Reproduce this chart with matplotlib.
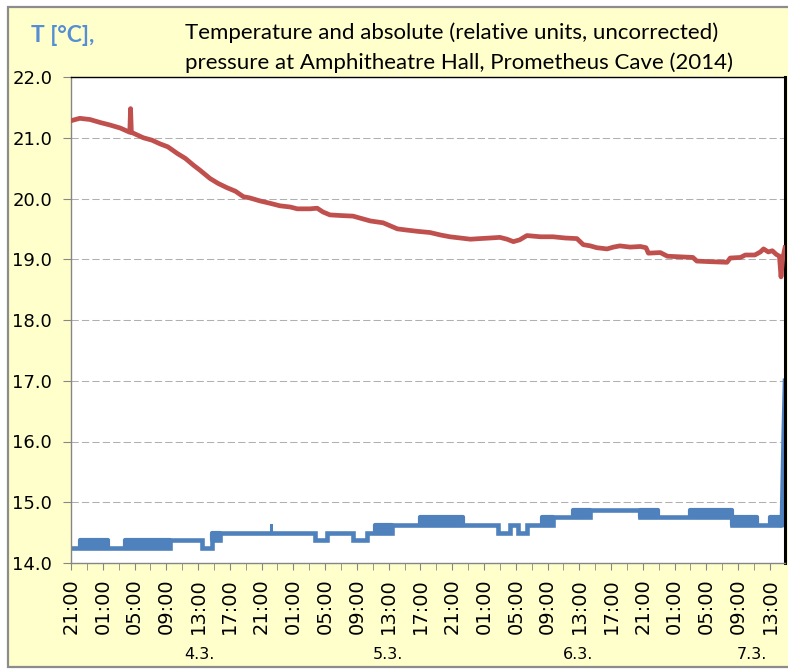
import matplotlib
matplotlib.use("Agg")
import matplotlib.pyplot as plt
from matplotlib.patches import Rectangle
import numpy as np

# ------------------ DATA (hours since 3.3.2014 21:00) ------------------
red_t = [0.0, 1.1, 2.4, 3.7, 4.9, 6.2, 7.4, 7.5, 7.6, 9.1, 10.2, 11.2, 12.2, 13.4,
         14.4, 15.4, 16.2, 17.5, 18.5, 19.6, 20.7, 21.7, 22.5, 23.8, 25.1, 26.3,
         27.6, 28.5, 30.1, 31.0, 31.7, 32.6, 33.9, 35.5, 36.6, 37.7, 39.3, 40.2,
         41.1, 42.3, 43.6, 45.2, 46.5, 47.7, 49.0, 50.3, 51.5, 52.8, 54.0, 54.9,
         55.7, 56.5, 57.4, 59.1, 60.7, 62.2, 63.7, 64.5, 65.4, 66.2, 67.5, 68.3,
         69.1, 70.4, 71.7, 72.4, 72.7, 74.2, 75.1, 76.7, 78.3, 78.8, 80.5, 82.6,
         83.0, 84.3, 84.9, 86.1, 86.8, 87.2, 87.8, 88.3, 88.8, 89.2, 89.4, 89.6, 89.9]
red_v = [21.28, 21.32, 21.30, 21.25, 21.21, 21.16, 21.09, 21.48, 21.09, 21.00, 20.96,
         20.90, 20.85, 20.74, 20.66, 20.55, 20.47, 20.33, 20.25, 20.18, 20.12, 20.03,
         20.01, 19.96, 19.92, 19.88, 19.86, 19.83, 19.83, 19.84, 19.78, 19.73, 19.72,
         19.71, 19.67, 19.63, 19.60, 19.55, 19.50, 19.48, 19.46, 19.44, 19.40, 19.37,
         19.35, 19.33, 19.34, 19.35, 19.36, 19.33, 19.29, 19.32, 19.39, 19.37, 19.37,
         19.35, 19.34, 19.24, 19.22, 19.19, 19.17, 19.20, 19.22, 19.20, 19.21, 19.19,
         19.10, 19.11, 19.05, 19.04, 19.03, 18.97, 18.96, 18.95, 19.02, 19.03, 19.07,
         19.07, 19.12, 19.17, 19.12, 19.14, 19.08, 19.05, 18.71, 19.00, 19.19]

# blue series: steps (value holds until next time)
blue_t = [0.0, 12.5, 16.5, 17.8, 18.8, 30.7, 32.2, 35.5, 37.3, 40.4, 53.8, 55.3,
          56.3, 57.4, 60.7, 65.4, 71.7, 73.9, 83.2, 89.5]
blue_v = [14.25, 14.375, 14.25, 14.375, 14.5, 14.375, 14.5, 14.375, 14.5, 14.625,
          14.5, 14.625, 14.5, 14.625, 14.75, 14.875, 14.75, 14.75, 14.625, 14.625]
blue_end_t = [89.75, 89.9]
blue_end_v = [16.2, 17.0]

# periods where the reading flickers between two levels
flick_start = [1.1, 6.8, 17.8, 38.3, 44.0, 59.3, 63.2, 71.7, 78.0, 83.2, 85.0, 88.0]
flick_end = [4.6, 12.5, 18.8, 40.4, 49.4, 60.7, 65.4, 73.9, 83.2, 84.9, 86.4, 89.5]
flick_lo = [14.25, 14.25, 14.375, 14.5, 14.625, 14.625, 14.75, 14.75, 14.75, 14.625, 14.625, 14.625]
flick_hi = [14.375, 14.375, 14.5, 14.625, 14.75, 14.75, 14.875, 14.875, 14.875, 14.75, 14.75, 14.75]

spike_t = [25.2, 25.2]
spike_v = [14.5, 14.625]

hour_labels = ["21:00", "01:00", "05:00", "09:00", "13:00", "17:00",
               "21:00", "01:00", "05:00", "09:00", "13:00", "17:00",
               "21:00", "01:00", "05:00", "09:00", "13:00", "17:00",
               "21:00", "01:00", "05:00", "09:00", "13:00"]
day_labels = ["4.3.", "5.3.", "6.3.", "7.3."]
day_pos = [16.2, 39.9, 63.9, 85.8]

RED = "#C0504D"
BLUE = "#4F81BD"

W, H = 788, 669
fig = plt.figure(figsize=(W / 100, H / 100), dpi=100, facecolor="white")
fig.patches.append(Rectangle((8 / W, 2 / H), 1.0, 660 / H, transform=fig.transFigure,
                             facecolor="#FFFFCC", edgecolor="#8C8C8C", lw=1.6, zorder=-10))

ax = fig.add_axes([71 / W, 1 - 563 / H, (785 - 71) / W, (563 - 77) / H])
ax.set_facecolor("white")

ax.set_ylim(14, 22)
ax.set_xlim(0, 89.9)
ax.set_yticks(np.arange(14, 22.01, 1.0))
ax.set_yticklabels([f"{v:.1f}" for v in np.arange(14, 22.01, 1.0)])
for yv in range(15, 22):
    ax.axhline(yv, color="#B0B0B0", lw=0.75, dashes=(7, 3), zorder=0)

# blue (step) series
ax.plot(blue_t, blue_v, drawstyle="steps-post", color=BLUE, lw=3.3,
        solid_joinstyle="miter", solid_capstyle="butt", zorder=2)
ax.plot([blue_t[-1]] + blue_end_t, [blue_v[-1]] + blue_end_v, color=BLUE, lw=3.3, zorder=2)
for s, e, lo, hi in zip(flick_start, flick_end, flick_lo, flick_hi):
    ax.fill_between([s, e], [lo, lo], [hi, hi], facecolor=BLUE, edgecolor=BLUE, lw=3.0, zorder=2)
ax.plot(spike_t, spike_v, color=BLUE, lw=2.2, zorder=2)

# red series
ax.plot(red_t, red_v, color=RED, lw=3.4, solid_joinstyle="round", zorder=3)

ax.set_xticks(np.arange(0, 89, 4))
ax.set_xticks(np.arange(0, 89.9, 2), minor=True)
ax.set_xticklabels(hour_labels, rotation=90, fontsize=14, family="DejaVu Sans")
ax.tick_params(axis="x", which="both", direction="out", length=5, color="#868686", pad=6)
ax.tick_params(axis="y", direction="out", length=5.5, color="#868686", pad=8, labelsize=13)

for side in ["left", "bottom"]:
    ax.spines[side].set_color("#868686")
    ax.spines[side].set_linewidth(1.0)
ax.spines["top"].set_color("black")
ax.spines["top"].set_linewidth(1.0)
ax.spines["right"].set_color("black")
ax.spines["right"].set_linewidth(2.2)

for lab, pos in zip(day_labels, day_pos):
    ax.text(pos, -0.188, lab, transform=ax.get_xaxis_transform(), ha="center", va="center",
            fontsize=11.5, family="DejaVu Sans")

fig.text(31 / W, 1 - 35 / H, "T [°C],", color="#558ED5", fontsize=16.5, fontweight="bold",
         family="Lato", ha="left", va="center")
fig.text(185 / W, 1 - 33 / H, "Temperature and absolute (relative units, uncorrected)",
         fontsize=16, family="Lato", ha="left", va="center")
fig.text(185 / W, 1 - 63 / H, "pressure at Amphitheatre Hall, Prometheus Cave (2014)",
         fontsize=16, family="Lato", ha="left", va="center")

fig.savefig("out.png", dpi=100, facecolor=fig.get_facecolor())
